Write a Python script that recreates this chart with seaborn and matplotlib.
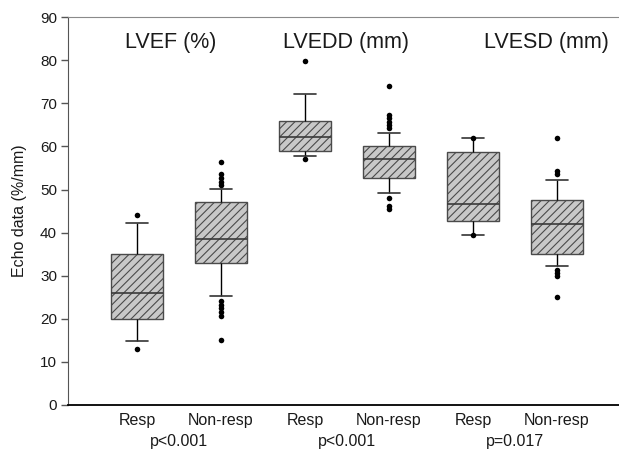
import pandas as pd
import matplotlib
matplotlib.use("Agg")
import matplotlib.pyplot as plt
import matplotlib.transforms as mtransforms
import seaborn as sns

# 组别 (按图中从左到右)
groups = ["LVEF Resp", "LVEF Non-resp", "LVEDD Resp", "LVEDD Non-resp",
          "LVESD Resp", "LVESD Non-resp"]

# 箱线图的五个数值
whisker_low = [14.9, 25.3, 57.7, 49.1, 39.4, 32.3]
q1 = [20.0, 33.0, 59.0, 52.7, 42.8, 35.0]
median = [26.1, 38.6, 62.1, 57.0, 46.6, 42.0]
q3 = [35.0, 47.0, 66.0, 60.0, 58.8, 47.6]
whisker_high = [42.3, 50.2, 72.1, 63.2, 62.0, 52.1]

# 离群点
outliers = {
    "LVEF Resp": [44.1, 13.1],
    "LVEF Non-resp": [56.3, 53.5, 52.7, 51.8, 51.0, 24.2, 23.3, 22.4, 21.5, 20.6, 15.1],
    "LVEDD Resp": [79.9, 57.0],
    "LVEDD Non-resp": [73.9, 67.3, 66.5, 65.7, 64.9, 64.2, 48.1, 46.2, 45.4],
    "LVESD Resp": [62.0, 39.4],
    "LVESD Non-resp": [62.0, 54.2, 53.5, 31.3, 30.6, 29.9, 25.1],
}

# 轴标签与文字
tick_labels = ["Resp", "Non-resp", "Resp", "Non-resp", "Resp", "Non-resp"]
titles = ["LVEF (%)", "LVEDD (mm)", "LVESD (mm)"]
p_values = ["p<0.001", "p<0.001", "p=0.017"]

# 布局位置
title_pos = [0.40, 2.49, 4.87]
p_pos = [0.5, 2.5, 4.5]

# 五数数据 -> 长表 (whis=(0,100) 时正好得到这些分位数)
rows = []
for i, g in enumerate(groups):
    for v in [whisker_low[i], q1[i], median[i], q3[i], whisker_high[i]]:
        rows.append({"group": g, "value": v})
box_df = pd.DataFrame(rows)

out_rows = [{"group": g, "value": v} for g in groups for v in outliers[g]]
out_df = pd.DataFrame(out_rows)

sns.set_style("ticks")
plt.rcParams["font.family"] = ["Liberation Sans", "DejaVu Sans"]
plt.rcParams["hatch.linewidth"] = 0.8
plt.rcParams["hatch.color"] = "#3a3a3a"
plt.rcParams["text.color"] = "#1a1a1a"
plt.rcParams["axes.labelcolor"] = "#1a1a1a"
plt.rcParams["xtick.labelcolor"] = "#1a1a1a"
plt.rcParams["ytick.labelcolor"] = "#1a1a1a"

fig = plt.figure(figsize=(6.19, 4.5), dpi=100)
ax = fig.add_axes([0.110, 0.100, 0.890, 0.862])

sns.boxplot(data=box_df, x="group", y="value", order=groups, whis=(0, 100),
            width=0.61, color="#c8c8c8", saturation=1, linecolor="#4a4a4a",
            linewidth=1.0, capwidths=0.27, showfliers=False, ax=ax,
            whiskerprops=dict(color="black", linewidth=1.0),
            capprops=dict(color="#333333", linewidth=1.2),
            medianprops=dict(color="#3a3a3a", linewidth=1.2))

for p in ax.patches:
    p.set_hatch("////")
    p.set_edgecolor("#4a4a4a")

sns.stripplot(data=out_df, x="group", y="value", order=groups, jitter=False,
              color="black", size=4, linewidth=0, ax=ax)

ax.set_xlim(-0.821, 5.738)
ax.set_ylim(0, 90)
ax.set_yticks(range(0, 91, 10))
ax.set_xticks(range(len(groups)))
ax.set_xticklabels(tick_labels, fontsize=11.5)
ax.tick_params(axis="x", length=0, pad=6)
ax.tick_params(axis="y", length=5, width=1, color="#555555", labelsize=11, pad=3)
ax.set_xlabel("")
ax.set_ylabel("Echo data (%/mm)", fontsize=11.5, labelpad=9)

ax.spines["right"].set_visible(False)
ax.spines["top"].set_color("#8a8a8a")
ax.spines["left"].set_color("#555555")
ax.spines["bottom"].set_color("black")
ax.spines["bottom"].set_linewidth(1.3)

for x, t in zip(title_pos, titles):
    ax.text(x, 84.2, t, fontsize=15.5, ha="center", va="center")

trans = mtransforms.blended_transform_factory(ax.transData, ax.transAxes)
for x, t in zip(p_pos, p_values):
    ax.text(x, -0.093, t, fontsize=11.5, ha="center", va="center", transform=trans)

fig.savefig("out.png", dpi=100)
